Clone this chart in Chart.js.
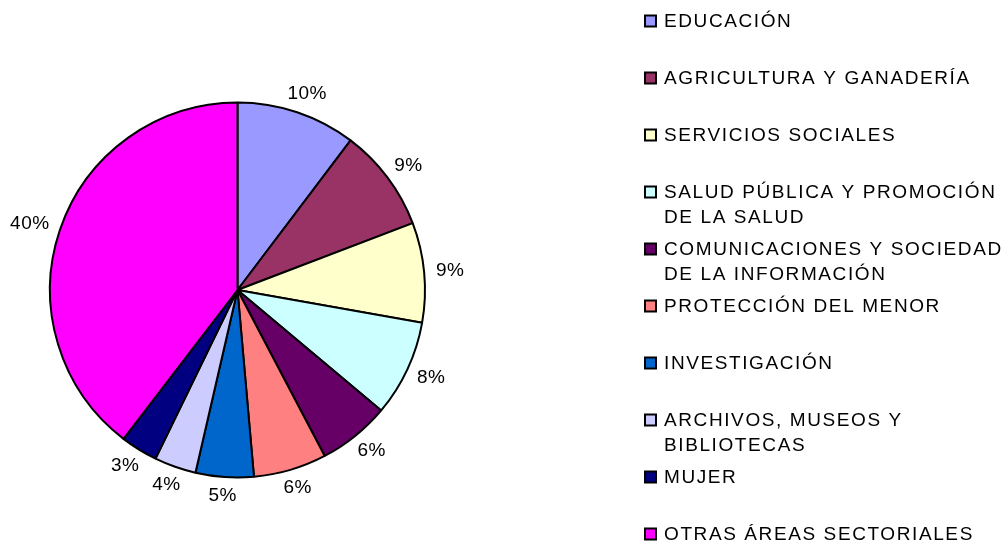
<!DOCTYPE html>
<html>
<head>
<meta charset="utf-8">
<script src="https://cdn.jsdelivr.net/npm/chart.js@4"></script>
<style>
  html, body { margin: 0; padding: 0; background: #fff; }
  #wrap { width: 1008px; height: 543px; position: relative; }
</style>
</head>
<body>
<div id="wrap"><canvas id="pie"></canvas></div>
<script>
const categories = [
  'EDUCACIÓN',
  'AGRICULTURA Y GANADERÍA',
  'SERVICIOS SOCIALES',
  ['SALUD PÚBLICA Y PROMOCIÓN', 'DE LA SALUD'],
  ['COMUNICACIONES Y SOCIEDAD', 'DE LA INFORMACIÓN'],
  'PROTECCIÓN DEL MENOR',
  'INVESTIGACIÓN',
  ['ARCHIVOS, MUSEOS Y', 'BIBLIOTECAS'],
  'MUJER',
  'OTRAS ÁREAS SECTORIALES'
];
const shares = [10.3, 8.9, 8.6, 8.3, 6.2, 6.3, 5.0, 3.6, 3.2, 39.6];
const sliceColors = [
  '#9999FF', '#993366', '#FFFFCC', '#CCFFFF', '#660066',
  '#FF8080', '#0066CC', '#CCCCFF', '#000080', '#FF00FF'
];

// percent labels outside each slice + legend on the right
const pieExtras = {
  id: 'pieExtras',
  afterDraw(chart) {
    const ctx = chart.ctx;
    const meta = chart.getDatasetMeta(0);
    const total = shares.reduce((a, b) => a + b, 0);
    ctx.save();
    ctx.font = '19px "Liberation Sans", Arial, sans-serif';
    ctx.letterSpacing = '0.5px';
    ctx.fillStyle = '#000';
    ctx.textBaseline = 'middle';
    ctx.textAlign = 'center';
    meta.data.forEach((arc, i) => {
      const p = arc.getProps(['x', 'y', 'startAngle', 'endAngle', 'outerRadius'], true);
      const mid = (p.startAngle + p.endAngle) / 2;
      const txt = Math.round(shares[i] / total * 100) + '%';
      const w = ctx.measureText(txt).width;
      const c = Math.cos(mid), s = Math.sin(mid);
      const r = p.outerRadius + 12;
      ctx.fillText(txt, p.x + c * r + c * w / 2, p.y + s * r + s * 7);
    });

    // legend
    ctx.font = '19px "Liberation Sans", Arial, sans-serif';
    ctx.textAlign = 'left';
    ctx.letterSpacing = '1.6px';
    const top = 21, step = 57, lineGap = 25;
    categories.forEach((lab, i) => {
      const y = top + step * i;
      ctx.fillStyle = sliceColors[i];
      ctx.fillRect(645, y - 5.5, 11, 11);
      ctx.strokeStyle = '#000';
      ctx.lineWidth = 2;
      ctx.strokeRect(645, y - 5.5, 11, 11);
      ctx.fillStyle = '#000';
      const lines = Array.isArray(lab) ? lab : [lab];
      lines.forEach((ln, k) => ctx.fillText(ln, 664, y + 1 + k * lineGap));
    });
    ctx.restore();
  }
};

new Chart(document.getElementById('pie'), {
  type: 'pie',
  data: {
    labels: categories,
    datasets: [{
      data: shares,
      backgroundColor: sliceColors,
      borderColor: '#000',
      borderWidth: 2,
      hoverOffset: 0
    }]
  },
  options: {
    responsive: true,
    maintainAspectRatio: false,
    animation: false,
    layout: {
      padding: { left: 49, right: 582, top: 101, bottom: 64 }
    },
    plugins: {
      legend: { display: false },
      tooltip: { enabled: false }
    }
  },
  plugins: [pieExtras]
});
</script>
</body>
</html>
